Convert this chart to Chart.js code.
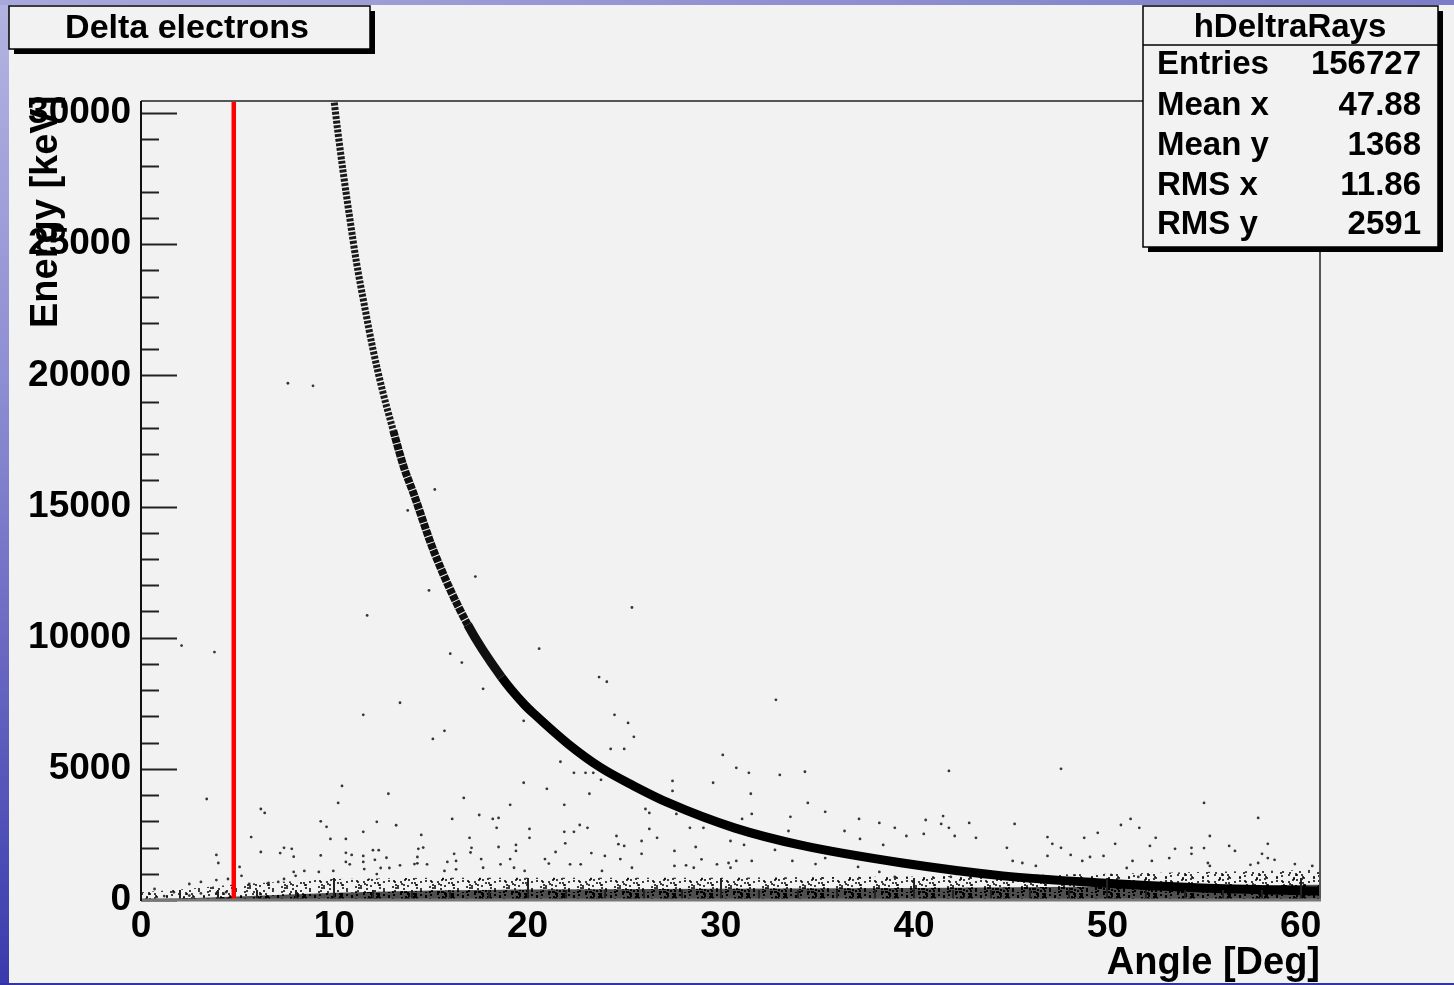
<!DOCTYPE html>
<html>
<head>
<meta charset="utf-8">
<title>Delta electrons</title>
<script src="https://cdn.jsdelivr.net/npm/chart.js@4/dist/chart.umd.min.js"></script>
<style>
  html, body { margin: 0; padding: 0; background: #f2f2f2; overflow: hidden; }
  canvas { display: block; }
</style>
</head>
<body>
<canvas id="myChart" width="1454" height="985"></canvas>
<script>
// kinematic curve (angle in deg, energy in keV)
var curveAngle  = [10.0, 10.2, 10.45, 10.8, 11.15, 11.55, 12.0, 12.5, 13.05, 13.6, 14.1, 15.2, 16.9, 18.65, 19.84, 20.36, 22.1, 23.8, 25.5, 27.3, 30.7, 34.2, 39.4, 44.6, 49.7, 54.9, 61.1]
var curveEnergy = [30400, 29200, 27800, 26000, 24300, 22700, 21000, 19400, 17900, 16500, 15500, 13200, 10500, 8500, 7450, 7080, 5950, 5040, 4350, 3700, 2750, 2080, 1410, 920, 650, 460, 340]

// dense low energy band along the axis (upper edge of the core and of the halo)
var bandAngle = [0, 2, 5, 10, 15, 20, 30, 40, 50, 61]
var bandCore  = [40, 60, 130, 280, 360, 400, 430, 460, 510, 580]
var bandHalo  = [300, 400, 600, 800, 850, 850, 850, 900, 1000, 1150]

// isolated entries
var noiseAngle = [7.6, 8.9, 15.2, 13.8, 17.3, 14.9, 25.4, 11.7, 2.1, 3.8, 20.6, 16.0, 16.6, 23.7, 24.1, 17.7, 32.85, 13.4, 11.5, 24.5,
  19.8, 25.2, 15.7, 25.5, 15.1, 24.3, 25.0, 30.1, 21.7, 30.8, 47.6, 41.8, 34.35, 22.4, 23.0, 23.4, 31.45, 33.05, 23.8, 27.5,
  29.6, 19.8, 10.4, 21.0, 27.5, 12.8, 23.2, 31.55, 16.7, 3.4, 10.2, 34.5, 55.0, 19.1, 21.9, 6.2, 26.1, 35.4, 6.4, 26.3,
  27.7, 31.6, 33.6, 57.8, 18.5, 16.1, 18.2, 31.1, 37.15, 51.2, 40.6, 9.3, 12.2, 17.5, 38.2, 42.85, 41.5, 41.4, 45.2, 22.7,
  50.7, 13.2, 9.6, 18.4, 23.1, 28.4, 29.1, 39.0, 41.8, 51.65, 20.1, 26.3, 33.5, 36.4, 21.9, 22.4, 11.5, 49.5, 40.5, 14.5,
  24.6, 39.6, 42.1, 55.3, 5.7, 46.9, 20.1, 17.0, 26.7, 37.2, 43.2, 48.8, 52.5, 9.8, 10.6, 25.9, 30.5, 47.15, 50.4, 58.3,
  19.4, 31.2, 38.4, 21.95, 24.7, 25.0, 52.2, 56.3, 18.5, 28.7, 14.35, 14.6, 17.1, 7.4, 7.8, 34.5, 55.0, 44.8, 47.6, 54.35,
  53.5, 32.8, 12.0, 12.3, 19.4, 27.6, 56.6, 6.2, 21.45, 10.6, 17.05, 7.2, 23.3, 16.2, 25.9, 54.35, 58.0, 3.9, 10.9, 48.1,
  46.9, 49.8, 11.5, 24.0, 7.9, 9.3, 49.1, 12.7, 35.4, 53.2, 58.3, 14.3, 17.6, 19.1, 20.9, 24.8, 29.0, 58.65, 12.1, 16.3,
  30.8, 31.6, 33.7, 48.7, 51.3, 52.3, 45.1, 11.5, 15.85, 10.6, 4.0, 30.4, 45.6, 55.2, 57.8, 14.3, 21.1, 34.9, 14.15, 59.7,
  29.8, 10.8, 14.8, 18.6, 22.2, 22.75, 57.4, 13.4, 28.2, 5.1, 37.1, 46.3, 55.3, 60.6, 27.6, 17.7, 19.3, 25.4, 28.6, 30.5,
  12.4, 12.85, 38.2, 51.0, 40.6, 11.55, 16.3, 8.45, 9.95, 15.7, 19.85, 23.85, 42.9, 7.9, 9.2, 12.2, 41.9, 51.6, 39.0, 5.2,
  8.0, 0.7, 1.7, 2.5, 3.1, 3.9, 4.5, 5.6, 6.6, 7.1, 7.4, 2.5, 3.1, 3.9, 4.4, 1.2]
var noiseEnergy = [19700, 19600, 15650, 14850, 12330, 11800, 11150, 10850, 9700, 9450, 9580, 9390, 9050, 8500, 8320, 8050, 7630, 7520, 7060, 7060,
  6830, 6750, 6450, 6220, 6140, 5760, 5760, 5530, 5270, 5040, 5000, 4920, 4890, 4850, 4850, 4850, 4850, 4770, 4580, 4540,
  4470, 4470, 4350, 4240, 4160, 4050, 4050, 4050, 3890, 3850, 3700, 3700, 3700, 3630, 3630, 3470, 3470, 3360, 3320, 3320,
  3280, 3280, 3170, 3130, 3130, 3090, 3090, 3090, 3090, 3090, 3050, 3000, 2980, 3240, 2940, 2940, 3200, 2900, 2900, 2860,
  2860, 2850, 2790, 2750, 2750, 2750, 2750, 2750, 2750, 2750, 2710, 2710, 2630, 2630, 2600, 2600, 2600, 2560, 2520, 2480,
  2440, 2440, 2440, 2440, 2400, 2400, 2370, 2370, 2370, 2330, 2370, 2370, 2370, 2330, 2330, 2250, 2250, 2140, 2140, 2140,
  2100, 2100, 2100, 2160, 2130, 2060, 2060, 2060, 2020, 2020, 1950, 2000, 1990, 1990, 1950, 1980, 1980, 1990, 1990, 1990,
  1950, 1910, 1900, 1900, 1870, 1870, 1870, 1830, 1830, 1800, 1810, 1790, 1790, 1760, 1760, 1760, 1760, 1720, 1720, 1720,
  1680, 1680, 1680, 1680, 1650, 1700, 1640, 1610, 1600, 1600, 1600, 1640, 1560, 1560, 1560, 1560, 1550, 1530, 1530, 1490,
  1490, 1490, 1490, 1490, 1490, 1490, 1490, 1450, 1450, 1450, 1410, 1410, 1410, 1410, 1410, 1400, 1390, 1370, 1370, 1370,
  1360, 1360, 1360, 1360, 1360, 1360, 1340, 1320, 1320, 1260, 1260, 1300, 1300, 1300, 1300, 1230, 1230, 1230, 1230, 1230,
  1220, 1220, 1070, 1220, 1220, 1180, 1170, 1110, 1110, 1110, 1110, 1110, 1110, 1070, 1070, 990, 880, 880, 880, 920,
  920, 420, 300, 610, 690, 760, 800, 610, 650, 690, 800, 170, 250, 250, 300, 150]

// angular cut
var cutAngle  = [4.8, 4.8]
var cutEnergy = [0, 30460]

// labelled ticks
var angleTicks  = [0, 10, 20, 30, 40, 50, 60]
var energyTicks = [0, 5000, 10000, 15000, 20000, 25000, 30000]

var statLabels = ['Entries', 'Mean x', 'Mean y', 'RMS x', 'RMS y']
var statValues = ['156727', '47.88', '1368', '11.86', '2591']

var FONT = "'Liberation Sans', Arial, Helvetica, sans-serif"

function pairs(xs, ys) {
  return xs.map(function (x, i) { return { x: x, y: ys[i] } })
}

// speckled fill so the low energy band looks like a cloud of entries
function speckle(ctx, dots, base, alpha) {
  var c = document.createElement('canvas')
  c.width = 37; c.height = 19
  var g = c.getContext('2d')
  if (base) { g.fillStyle = base; g.fillRect(0, 0, 37, 19) }
  g.fillStyle = 'rgba(0,0,0,' + alpha + ')'
  for (var i = 0; i < dots; i++) {
    g.fillRect((i * i * 7 + i * 11) % 37, (i * 5 + (i * i) % 7) % 19, 2, 2)
  }
  return ctx.createPattern(c, 'repeat')
}

function pave(ctx, x, y, w, h) {
  ctx.fillStyle = '#000'
  ctx.fillRect(x + 5, y + 5, w, h)
  ctx.fillStyle = '#f2f2f2'
  ctx.fillRect(x, y, w, h)
  ctx.strokeStyle = '#000'
  ctx.lineWidth = 1.5
  ctx.strokeRect(x, y, w, h)
}

var rootPlugin = {
  id: 'rootLook',
  beforeDraw: function (chart) {
    var ctx = chart.ctx
    ctx.save()
    ctx.fillStyle = '#f2f2f2'
    ctx.fillRect(0, 0, chart.width, chart.height)
    var g = ctx.createLinearGradient(0, 0, 0, chart.height)
    g.addColorStop(0, '#b4b4e2')
    g.addColorStop(0.4, '#8c8cd2')
    g.addColorStop(1, '#3a3aae')
    ctx.fillStyle = g
    ctx.fillRect(0, 0, 9, chart.height)
    var t = ctx.createLinearGradient(0, 0, chart.width, 0)
    t.addColorStop(0, '#a8a8dc')
    t.addColorStop(1, '#7c7cc8')
    ctx.fillStyle = t
    ctx.fillRect(0, 0, chart.width, 5)
    ctx.fillStyle = '#3434a8'
    ctx.fillRect(0, chart.height - 2, chart.width, 2)
    ctx.restore()
  },
  afterDatasetsDraw: function (chart) {
    var ctx = chart.ctx, a = chart.chartArea
    var xs = chart.scales.x, ys = chart.scales.y
    ctx.save()
    ctx.strokeStyle = '#222'
    ctx.lineWidth = 2
    ctx.beginPath()
    for (var e = 0; e <= 30000; e += 1000) {
      var py = Math.round(ys.getPixelForValue(e)) + 0.5
      ctx.moveTo(a.left, py)
      ctx.lineTo(a.left + (e % 5000 === 0 ? 36 : 18), py)
    }
    for (var d = 0; d <= 60; d += 2) {
      var px = Math.round(xs.getPixelForValue(d))
      ctx.moveTo(px, a.bottom)
      ctx.lineTo(px, a.bottom - (d % 10 === 0 ? 22 : 10))
    }
    ctx.stroke()
    // frame
    ctx.strokeStyle = '#555'
    ctx.beginPath()
    ctx.moveTo(a.left, a.top); ctx.lineTo(a.right, a.top); ctx.lineTo(a.right, a.bottom)
    ctx.stroke()
    ctx.strokeStyle = '#777'
    ctx.lineWidth = 3
    ctx.beginPath()
    ctx.moveTo(a.left, a.bottom); ctx.lineTo(a.right + 1, a.bottom)
    ctx.stroke()
    ctx.strokeStyle = '#111'
    ctx.lineWidth = 2
    ctx.beginPath()
    ctx.moveTo(a.left, a.top); ctx.lineTo(a.left, a.bottom + 1)
    ctx.stroke()
    ctx.restore()
  },
  afterDraw: function (chart) {
    var ctx = chart.ctx, a = chart.chartArea
    ctx.save()
    ctx.fillStyle = '#000'
    ctx.textBaseline = 'alphabetic'
    // axis titles
    ctx.font = 'bold 38px ' + FONT
    ctx.textAlign = 'right'
    ctx.fillText('Angle [Deg]', a.right, 974)
    ctx.save()
    ctx.translate(57, 328)
    ctx.rotate(-Math.PI / 2)
    ctx.textAlign = 'left'
    ctx.fillText('Energy [keV]', 0, 0)
    ctx.restore()
    // title
    pave(ctx, 9, 6, 361, 43)
    ctx.fillStyle = '#000'
    ctx.font = 'bold 34px ' + FONT
    ctx.textAlign = 'center'
    ctx.fillText('Delta electrons', 187, 38)
    // stats box
    pave(ctx, 1143, 6, 295, 241)
    ctx.beginPath()
    ctx.moveTo(1143, 45); ctx.lineTo(1438, 45)
    ctx.stroke()
    ctx.fillStyle = '#000'
    ctx.font = 'bold 33px ' + FONT
    ctx.textAlign = 'center'
    ctx.fillText('hDeltraRays', 1290, 37)
    var base = [74, 115, 155, 195, 234]
    for (var i = 0; i < statLabels.length; i++) {
      ctx.textAlign = 'left'
      ctx.fillText(statLabels[i], 1157, base[i])
      ctx.textAlign = 'right'
      ctx.fillText(statValues[i], 1421, base[i])
    }
    ctx.restore()
  }
}

document.addEventListener('DOMContentLoaded', function () {
  var ctx = document.getElementById('myChart').getContext('2d')
  var tickFont = { family: FONT, size: 37, weight: 'bold' }
  var chart = new Chart(ctx, {
    type: 'scatter',
    data: {
      datasets: [{
        label: 'cut',
        data: pairs(cutAngle, cutEnergy),
        showLine: true,
        borderColor: '#ff0000',
        borderWidth: 4.5,
        pointRadius: 0,
        order: 0
      }, {
        label: 'curve',
        data: pairs(curveAngle, curveEnergy),
        showLine: true,
        cubicInterpolationMode: 'monotone',
        borderColor: '#000',
        borderWidth: 9,
        pointRadius: 0,
        order: 1,
        segment: {
          borderWidth: function (c) { var e = c.p0.parsed.y; return e > 19000 ? 7 : (e > 13000 ? 8 : undefined) },
          borderDash: function (c) { var e = c.p0.parsed.y; return e > 19000 ? [3, 1.5] : (e > 13000 ? [6, 1] : undefined) },
          borderColor: function (c) { var e = c.p0.parsed.y; return e > 19000 ? 'rgba(15,15,15,0.95)' : (e > 9000 ? '#101010' : undefined) }
        }
      }, {
        label: 'entries',
        data: pairs(noiseAngle, noiseEnergy),
        pointRadius: 1.4,
        pointBorderWidth: 0,
        pointBackgroundColor: 'rgba(20,20,20,0.85)',
        order: 2
      }, {
        label: 'core',
        data: pairs(bandAngle, bandCore),
        showLine: true,
        fill: 'origin',
        backgroundColor: speckle(ctx, 80, 'rgba(0,0,0,0.68)', 1),
        borderWidth: 0,
        pointRadius: 0,
        order: 3
      }, {
        label: 'halo',
        data: pairs(bandAngle, bandHalo),
        showLine: true,
        fill: 'origin',
        backgroundColor: speckle(ctx, 40, null, 0.75),
        borderWidth: 0,
        pointRadius: 0,
        order: 4
      }]
    },
    options: {
      responsive: false,
      animation: false,
      devicePixelRatio: 1,
      events: [],
      layout: { padding: { left: 0, top: 101, right: 134, bottom: 0 } },
      plugins: { legend: { display: false }, tooltip: { enabled: false } },
      scales: {
        x: {
          type: 'linear', min: 0, max: 61,
          grid: { display: false }, border: { display: false },
          afterFit: function (s) { s.height = 85 },
          afterBuildTicks: function (s) { s.ticks = angleTicks.map(function (v) { return { value: v } }) },
          ticks: {
            autoSkip: false, maxRotation: 0, padding: -3,
            color: '#000', font: tickFont,
            callback: function (v) { return String(v) }
          }
        },
        y: {
          type: 'linear', min: 0, max: 30460,
          grid: { display: false }, border: { display: false },
          afterFit: function (s) { s.width = 141 },
          afterBuildTicks: function (s) { s.ticks = energyTicks.map(function (v) { return { value: v } }) },
          ticks: {
            autoSkip: false, padding: 2,
            color: '#000', font: tickFont,
            callback: function (v) { return String(v) }
          }
        }
      }
    },
    plugins: [rootPlugin]
  })
})
</script>
</body>
</html>
